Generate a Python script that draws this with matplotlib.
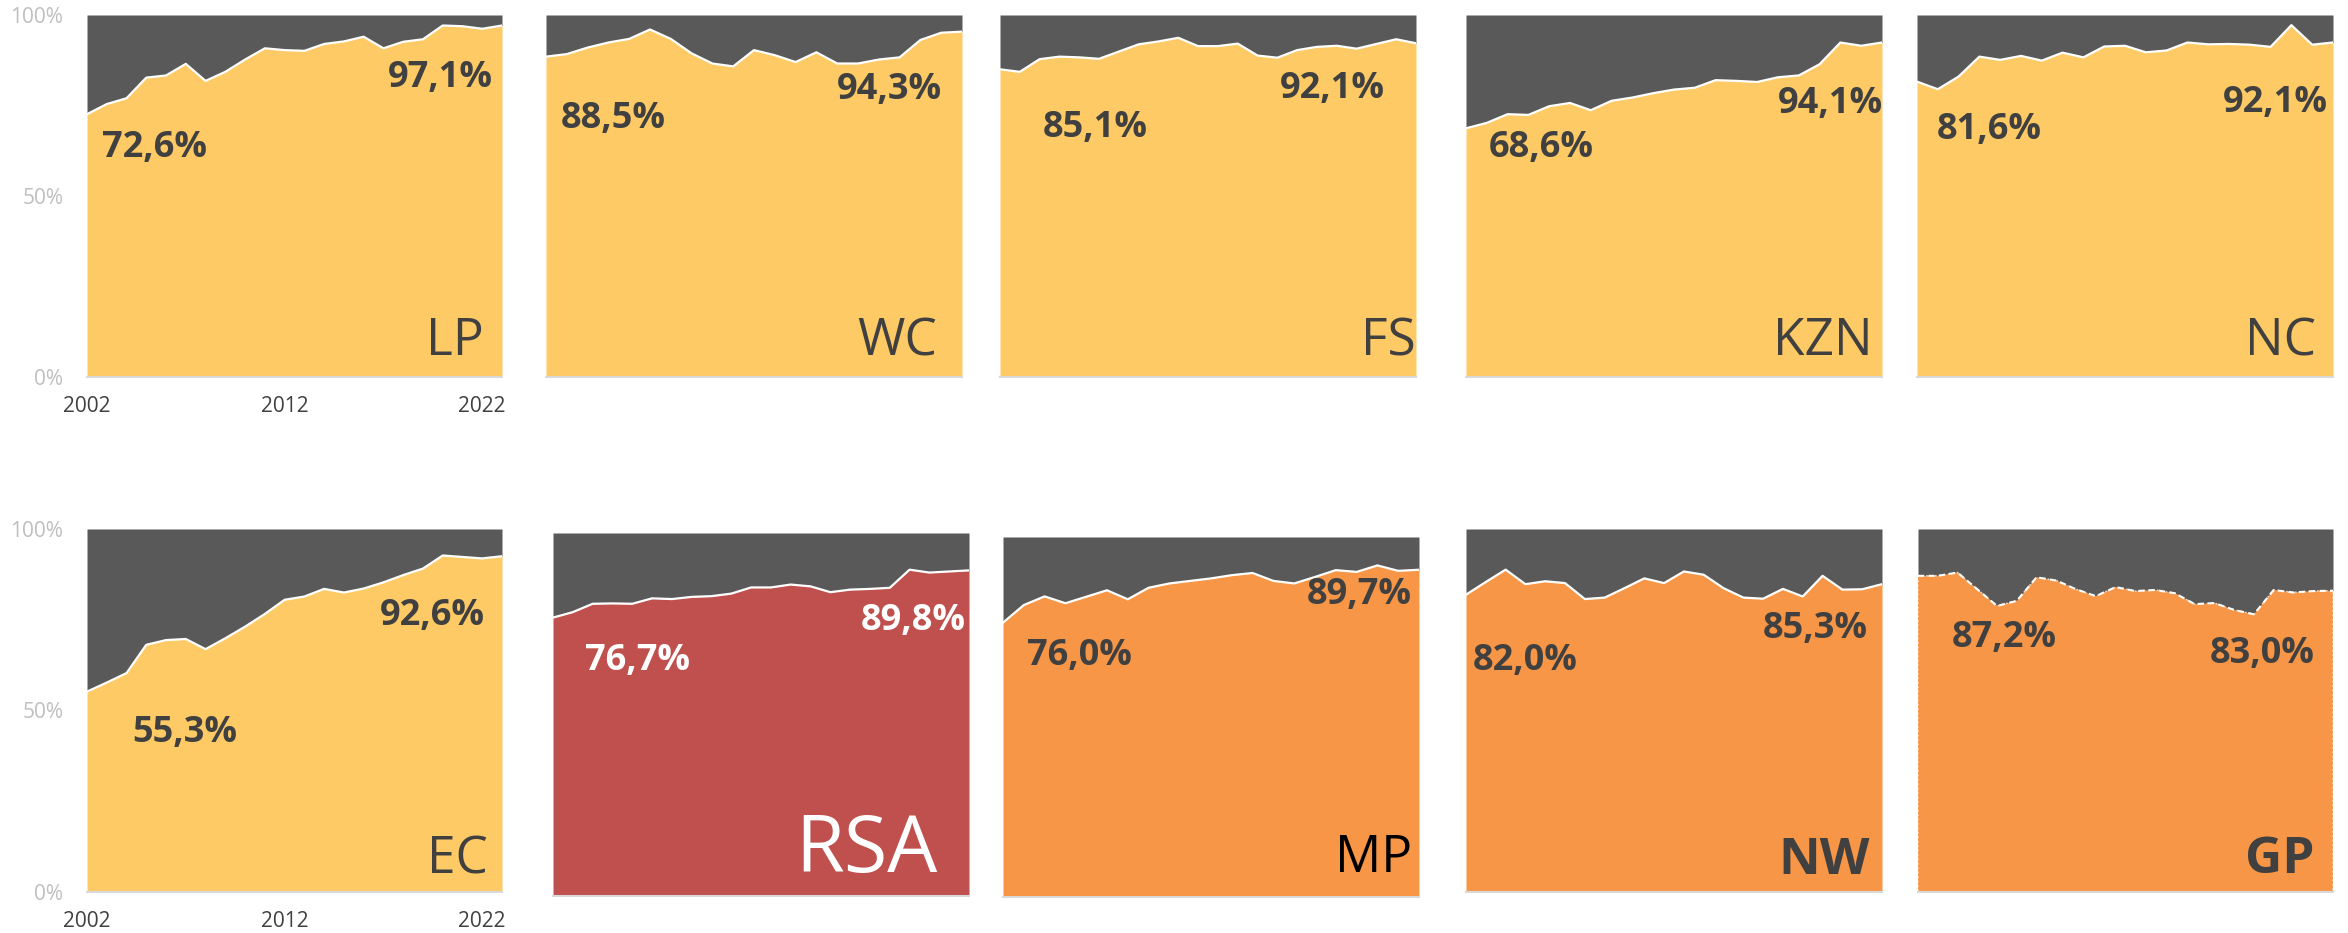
import numpy as np
import matplotlib
matplotlib.use("Agg")
import matplotlib.pyplot as plt

plt.rcParams['font.family'] = ['Open Sans', 'DejaVu Sans']

# years on the category axis (some panels stop at 2022, some run one year more)
years_long = list(range(2002, 2024))
years_short = list(range(2002, 2023))
tick_years = [2002, 2012, 2022]

# share (%) per province
lp = [72.6, 75.4, 77.0, 82.7, 83.3, 86.5, 81.8, 84.3, 87.7, 90.8, 90.3,
      90.1, 92.0, 92.7, 94.0, 90.8, 92.6, 93.3, 97.1, 96.9, 96.2, 97.1]
wc = [88.5, 89.2, 91.0, 92.4, 93.4, 96.0, 93.4, 89.4, 86.6, 85.8, 90.3,
      88.9, 87.0, 89.7, 86.6, 86.6, 87.7, 88.3, 93.1, 95.1, 95.4]
fs = [85.0, 84.3, 87.8, 88.5, 88.3, 87.9, 89.9, 91.9, 92.7, 93.7, 91.4,
      91.4, 92.1, 88.8, 88.2, 90.3, 91.2, 91.5, 90.7, 92.0, 93.3, 92.2]
kzn = [68.7, 70.2, 72.6, 72.4, 74.8, 75.7, 73.7, 76.3, 77.2, 78.4, 79.4,
       79.9, 82.0, 81.8, 81.5, 82.8, 83.3, 86.4, 92.4, 91.5, 92.4]
nc = [81.6, 79.5, 83.0, 88.5, 87.6, 88.7, 87.4, 89.6, 88.3, 91.3, 91.5,
      89.7, 90.2, 92.4, 91.9, 92.0, 91.8, 91.2, 97.2, 91.8, 92.4]
ec = [55.2, 57.7, 60.3, 68.1, 69.4, 69.7, 66.9, 69.9, 73.1, 76.6, 80.5,
      81.4, 83.5, 82.5, 83.6, 85.3, 87.3, 89.1, 92.7, 92.3, 91.9, 92.5]
rsa = [76.7, 78.2, 80.5, 80.6, 80.5, 82.0, 81.8, 82.4, 82.6, 83.3, 85.0,
       85.0, 85.8, 85.3, 83.7, 84.4, 84.6, 84.9, 89.9, 89.1, 89.4, 89.7]
mp = [76.2, 81.1, 83.5, 81.6, 83.4, 85.2, 82.7, 85.9, 87.1, 87.8, 88.5,
      89.4, 90.0, 87.8, 87.1, 88.9, 90.8, 90.3, 92.1, 90.6, 90.9]
nw = [81.9, 85.4, 88.8, 84.8, 85.6, 85.1, 80.7, 81.1, 83.7, 86.4, 85.1,
      88.3, 87.4, 83.7, 81.1, 80.8, 83.5, 81.4, 87.1, 83.3, 83.4, 84.8]
gp = [87.1, 87.1, 88.0, 83.4, 78.8, 80.2, 86.7, 85.8, 83.4, 81.5, 84.0,
      82.9, 83.2, 82.3, 79.3, 79.6, 77.7, 76.5, 83.2, 82.5, 82.9, 83.0]

names = ['LP', 'WC', 'FS', 'KZN', 'NC', 'EC', 'RSA', 'MP', 'NW', 'GP']
series = [lp, wc, fs, kzn, nc, ec, rsa, mp, nw, gp]
first_labels = ['72,6%', '88,5%', '85,1%', '68,6%', '81,6%',
                '55,3%', '76,7%', '76,0%', '82,0%', '87,2%']
last_labels = ['97,1%', '94,3%', '92,1%', '94,1%', '92,1%',
               '92,6%', '89,8%', '89,7%', '85,3%', '83,0%']

YELLOW = '#FECA66'
RED = '#C0504D'
ORANGE = '#F79646'
GREY = '#595959'
TXT = '#404040'

# panel boxes in pixels: left, top, right, bottom
boxes = [(87, 15, 502, 377), (546, 15, 962, 377), (1000, 15, 1416, 377),
         (1466, 15, 1882, 377), (1917, 15, 2333, 377),
         (87, 529, 502, 892), (553, 533, 969, 896), (1003, 537, 1419, 897),
         (1466, 529, 1882, 892), (1918, 529, 2333, 892)]
fill_cols = [YELLOW] * 6 + [RED, ORANGE, ORANGE, ORANGE]
# label placement in pixels: (start left x, start baseline, end right x, end baseline, name right x, name baseline)
spots = [(102, 157, 493, 87, 484, 355), (561, 128, 942, 99, 937, 355),
         (1043, 137, 1385, 98, 1416, 355), (1489, 157, 1883, 113, 1873, 355),
         (1937, 139, 2328, 112, 2316, 355),
         (132, 742, 485, 625, 488, 873), (585, 670, 966, 630, 938, 872),
         (1027, 665, 1412, 604, 1412, 872), (1473, 670, 1868, 638, 1870, 874),
         (1952, 647, 2315, 663, 2314, 873)]

W, H = 2348, 933
fig = plt.figure(figsize=(W / 100, H / 100), dpi=100)

for i, name in enumerate(names):
    l, t, r, b = boxes[i]
    ax = fig.add_axes([l / W, 1 - b / H, (r - l) / W, (b - t) / H])
    vals = np.array(series[i])
    yrs = years_long if len(vals) == len(years_long) else years_short
    ax.fill_between(yrs, vals, 100, color=GREY, lw=0)
    if name == 'GP':
        ax.fill_between(yrs, 0, vals, facecolor=fill_cols[i], edgecolor='#FBD3B3',
                        linestyle=':', lw=1.2)
        ax.plot(yrs, vals, color='white', lw=1.5, ls=(0, (3, 2)))
    else:
        ax.fill_between(yrs, 0, vals, color=fill_cols[i], lw=0)
        ax.plot(yrs, vals, color='white', lw=1.6)
    ax.set_xlim(yrs[0], yrs[-1])
    ax.set_ylim(0, 100)
    for s in ['top', 'right', 'left']:
        ax.spines[s].set_visible(False)
    ax.spines['bottom'].set_color('#D9D9D9')
    ax.spines['bottom'].set_linewidth(1.5)
    ax.tick_params(length=0)
    if name in ('LP', 'EC'):
        ax.set_yticks([0, 50, 100])
        ax.set_yticklabels(['0%', '50%', '100%'], color='#BFBFBF', fontsize=15)
        ax.tick_params(axis='y', pad=17)
        ax.set_xticks(tick_years)
        ax.set_xticklabels([str(y) for y in tick_years], color=TXT, fontsize=15)
        ax.tick_params(axis='x', pad=14)
    else:
        ax.set_xticks([])
        ax.set_yticks([])

    def fx(px):
        return (px - l) / (r - l)

    def fy(py):
        return (b - py) / (b - t)

    sx, sy, ex, ey, nx, ny = spots[i]
    pct_col = 'white' if name == 'RSA' else TXT
    ax.text(fx(sx), fy(sy), first_labels[i], transform=ax.transAxes, ha='left',
            va='baseline', fontsize=26, fontweight='bold', color=pct_col)
    ax.text(fx(ex), fy(ey), last_labels[i], transform=ax.transAxes, ha='right',
            va='baseline', fontsize=26, fontweight='bold', color=pct_col)
    if name == 'RSA':
        ncol, nsize, nweight = 'white', 57, 'normal'
    elif name == 'MP':
        ncol, nsize, nweight = 'black', 37, 'normal'
    elif name in ('NW', 'GP'):
        ncol, nsize, nweight = TXT, 37, 'bold'
    else:
        ncol, nsize, nweight = TXT, 37, 'normal'
    ax.text(fx(nx), fy(ny), name, transform=ax.transAxes, ha='right',
            va='baseline', fontsize=nsize, fontweight=nweight, color=ncol)

fig.savefig('out.png', dpi=100, facecolor='white')
